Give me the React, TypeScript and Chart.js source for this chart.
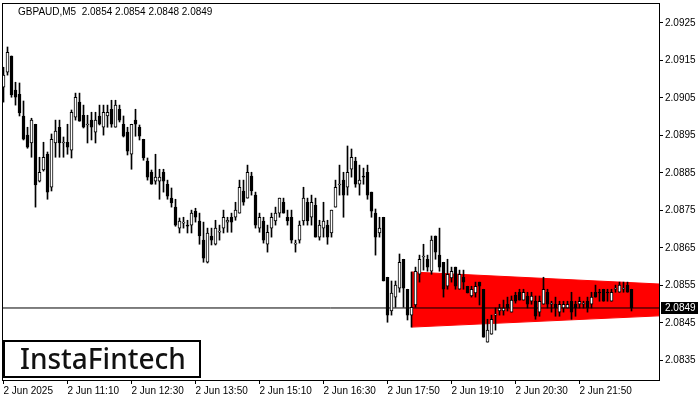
import React, { useEffect, useRef } from "react";
import { Chart, registerables } from "chart.js";

Chart.register(...registerables);

const headerText = "GBPAUD,M5  2.0854 2.0854 2.0848 2.0849";
const watermarkText = "InstaFintech";

const opens = [
  2.09079, 2.09119, 2.09162, 2.09071, 2.0906, 2.09002, 2.08951, 2.0893, 2.0898, 2.08828,
  2.08858, 2.089, 2.08812, 2.0893, 2.08972, 2.0893, 2.08932, 2.08911, 2.08999, 2.09039,
  2.09004, 2.08978, 2.08991, 2.08959, 2.09002, 2.08972, 2.09002, 2.0902, 2.08972, 2.0902,
  2.0898, 2.08959, 2.089, 2.08991, 2.08972, 2.0894, 2.08882, 2.08852, 2.08828, 2.08828,
  2.08852, 2.0882, 2.08783, 2.08759, 2.08703, 2.08716, 2.08711, 2.08711, 2.08748, 2.08722,
  2.08671, 2.08612, 2.08682, 2.0866, 2.08692, 2.08703, 2.08719, 2.08732, 2.08732, 2.08743,
  2.08802, 2.08783, 2.08842, 2.08791, 2.08703, 2.08722, 2.0866, 2.08703, 2.08722, 2.08743,
  2.08772, 2.08732, 2.08732, 2.0866, 2.08671, 2.08722, 2.08772, 2.08732, 2.08764, 2.08679,
  2.08703, 2.08711, 2.0869, 2.08759, 2.08818, 2.08831, 2.08812, 2.0886, 2.08882, 2.0882,
  2.08842, 2.08852, 2.08799, 2.08743, 2.0869, 2.08732, 2.08572, 2.08482, 2.08519, 2.08543,
  2.0862, 2.0854, 2.08471, 2.08498, 2.0858, 2.08626, 2.0862, 2.08588, 2.08682, 2.08631,
  2.08612, 2.08548, 2.0857, 2.08599, 2.0854, 2.08572, 2.08548, 2.08522, 2.0853, 2.08559,
  2.0854, 2.08399, 2.0842, 2.08471, 2.08482, 2.08482, 2.085, 2.08479, 2.08524, 2.08532,
  2.08511, 2.08522, 2.08508, 2.08508, 2.08479, 2.085, 2.08532, 2.085, 2.085, 2.08479,
  2.0849, 2.0849, 2.08508, 2.085, 2.085, 2.085, 2.08508, 2.085, 2.08532, 2.08532,
  2.0854, 2.08532, 2.08508, 2.0854, 2.08532, 2.0854, 2.08551, 2.0854,
];

const highs = [
  2.09132, 2.09186, 2.09162, 2.09092, 2.0909, 2.09042, 2.08972, 2.08996, 2.0898, 2.08892,
  2.08932, 2.08906, 2.08954, 2.08991, 2.08991, 2.08946, 2.0898, 2.09018, 2.09063, 2.09063,
  2.09031, 2.09004, 2.09012, 2.09012, 2.09031, 2.09031, 2.09031, 2.09044, 2.09044, 2.09031,
  2.09002, 2.08972, 2.0898, 2.0902, 2.08978, 2.0894, 2.0889, 2.08858, 2.089, 2.0886,
  2.0886, 2.08831, 2.0881, 2.0878, 2.0873, 2.08732, 2.08724, 2.08751, 2.08756, 2.08743,
  2.08719, 2.08703, 2.08703, 2.08724, 2.08711, 2.08751, 2.08732, 2.08743, 2.08772, 2.08831,
  2.08831, 2.08871, 2.08852, 2.08799, 2.08743, 2.08732, 2.08711, 2.08743, 2.08759, 2.08783,
  2.08783, 2.08751, 2.08751, 2.08671, 2.08722, 2.08812, 2.08783, 2.08791, 2.08783, 2.08724,
  2.08772, 2.08724, 2.08751, 2.08831, 2.08871, 2.08852, 2.08922, 2.08914, 2.08892, 2.08871,
  2.08863, 2.08871, 2.08799, 2.08754, 2.08732, 2.08732, 2.08572, 2.08562, 2.08562, 2.08634,
  2.0862, 2.0854, 2.08586, 2.08599, 2.08631, 2.0866, 2.08631, 2.08682, 2.08682, 2.08703,
  2.08612, 2.0862, 2.08599, 2.08599, 2.08591, 2.08591, 2.08548, 2.08548, 2.08559, 2.08559,
  2.0854, 2.0846, 2.08471, 2.0849, 2.085, 2.08511, 2.08519, 2.08522, 2.08532, 2.0854,
  2.0854, 2.08532, 2.08532, 2.08522, 2.08522, 2.08572, 2.0854, 2.08508, 2.08519, 2.08508,
  2.08508, 2.08508, 2.08532, 2.08508, 2.08519, 2.08508, 2.08519, 2.08532, 2.08551, 2.0854,
  2.0854, 2.0854, 2.0854, 2.08551, 2.08559, 2.08559, 2.08559, 2.0854,
];

const lows = [
  2.09039, 2.09111, 2.09052, 2.09031, 2.09002, 2.08938, 2.08916, 2.08892, 2.08759, 2.08826,
  2.08855, 2.0878, 2.08802, 2.08892, 2.08892, 2.08892, 2.089, 2.0889, 2.08991, 2.08988,
  2.0897, 2.0893, 2.08938, 2.0893, 2.08978, 2.08951, 2.08972, 2.08972, 2.08972, 2.08986,
  2.08946, 2.08898, 2.0886, 2.08948, 2.08938, 2.08884, 2.08831, 2.0882, 2.0882, 2.0878,
  2.08799, 2.0878, 2.08759, 2.08708, 2.0869, 2.08703, 2.0869, 2.0869, 2.08719, 2.0866,
  2.08612, 2.0861, 2.08658, 2.08658, 2.08671, 2.0869, 2.08692, 2.08692, 2.08724, 2.08743,
  2.08764, 2.08783, 2.08791, 2.08703, 2.08692, 2.08663, 2.08639, 2.08679, 2.08711, 2.08732,
  2.08743, 2.08711, 2.08663, 2.08639, 2.08663, 2.08711, 2.08711, 2.08711, 2.08679, 2.08671,
  2.08679, 2.0866, 2.08679, 2.08759, 2.08791, 2.08732, 2.08791, 2.08839, 2.08812, 2.08791,
  2.0882, 2.0878, 2.08732, 2.08631, 2.08679, 2.08562, 2.08452, 2.08471, 2.08492, 2.08532,
  2.08492, 2.08458, 2.08439, 2.08492, 2.08559, 2.08591, 2.08588, 2.0858, 2.0862, 2.08588,
  2.08519, 2.0854, 2.08559, 2.0854, 2.0854, 2.0854, 2.0853, 2.08519, 2.08519, 2.08498,
  2.08412, 2.08399, 2.0842, 2.08431, 2.08471, 2.08471, 2.08482, 2.08479, 2.08503, 2.08511,
  2.08511, 2.0849, 2.085, 2.0846, 2.08468, 2.085, 2.0849, 2.08479, 2.08468, 2.08468,
  2.08479, 2.0849, 2.0846, 2.08468, 2.0849, 2.0849, 2.08479, 2.0849, 2.08519, 2.08508,
  2.08508, 2.08508, 2.08508, 2.08532, 2.08532, 2.08532, 2.08532, 2.08482,
];

const closes = [
  2.09111, 2.09172, 2.09058, 2.09052, 2.0901, 2.0894, 2.08919, 2.08991, 2.08818, 2.08852,
  2.08892, 2.08799, 2.0894, 2.08962, 2.0893, 2.08932, 2.08919, 2.09012, 2.09052, 2.08988,
  2.08972, 2.0898, 2.08972, 2.08991, 2.0898, 2.09012, 2.09012, 2.0898, 2.09031, 2.08991,
  2.08948, 2.08908, 2.0898, 2.0898, 2.08948, 2.0889, 2.08839, 2.0882, 2.08839, 2.08839,
  2.08828, 2.08788, 2.0877, 2.08711, 2.08722, 2.08719, 2.08708, 2.08743, 2.08732, 2.08682,
  2.08623, 2.0869, 2.08671, 2.08703, 2.08695, 2.08732, 2.08724, 2.08719, 2.08751, 2.08812,
  2.08772, 2.08852, 2.08802, 2.08711, 2.08732, 2.08671, 2.08692, 2.08732, 2.08743, 2.08783,
  2.08743, 2.08722, 2.08671, 2.08663, 2.08711, 2.08783, 2.08722, 2.08772, 2.08679, 2.08711,
  2.08722, 2.08679, 2.08751, 2.08812, 2.0882, 2.08791, 2.08852, 2.08892, 2.0882, 2.08831,
  2.08839, 2.08791, 2.08748, 2.08679, 2.08703, 2.08562, 2.08471, 2.0853, 2.08551, 2.08612,
  2.08543, 2.08471, 2.08492, 2.08588, 2.0862, 2.08628, 2.08599, 2.08671, 2.08639, 2.08599,
  2.0854, 2.0858, 2.08588, 2.08548, 2.0858, 2.08559, 2.0853, 2.0854, 2.08548, 2.08548,
  2.08412, 2.08431, 2.0846, 2.08474, 2.0849, 2.0849, 2.0849, 2.08511, 2.08508, 2.08511,
  2.08532, 2.085, 2.08522, 2.08468, 2.08508, 2.0854, 2.085, 2.08502, 2.0849, 2.085,
  2.085, 2.085, 2.08479, 2.0849, 2.08508, 2.08502, 2.0849, 2.08519, 2.08519, 2.0853,
  2.08508, 2.0853, 2.08532, 2.08542, 2.08551, 2.08542, 2.08532, 2.0849,
];

const xTickIndex = [0, 16, 32, 48, 64, 80, 96, 112, 128, 144];
const xTickLabels = [
  "2 Jun 2025", "2 Jun 11:10", "2 Jun 12:30", "2 Jun 13:50", "2 Jun 15:10",
  "2 Jun 16:30", "2 Jun 17:50", "2 Jun 19:10", "2 Jun 20:30", "2 Jun 21:50",
];
const yTicks = [2.0835, 2.0845, 2.0855, 2.0865, 2.0875, 2.0885, 2.0895, 2.0905, 2.0915, 2.0925];

const xMin = -0.375;
const xMax = 163.875;
const yMin = 2.08298;
const yMax = 2.093033;

const patternX = [102, 163.875];
const patternTop = [2.08586, 2.08554];
const patternBottom = [2.08439, 2.08469];
const bidPrice = 2.0849;

const FONT = "'Liberation Sans', Arial, sans-serif";

const overlayPlugin = {
  id: "overlay",
  beforeDraw(chart: any) {
    const { ctx, width, height } = chart;
    ctx.save();
    ctx.fillStyle = "#fff";
    ctx.fillRect(0, 0, width, height);
    ctx.restore();
  },
  afterDraw(chart: any) {
    const { ctx, chartArea: a, scales } = chart;
    ctx.save();
    // frame
    ctx.strokeStyle = "#000";
    ctx.lineWidth = 1;
    ctx.strokeRect(a.left + 0.5, a.top + 0.5, a.right - a.left, a.bottom - a.top);
    // header
    ctx.fillStyle = "#000";
    ctx.font = `10px ${FONT}`;
    ctx.textBaseline = "middle";
    ctx.textAlign = "left";
    ctx.fillText(headerText, a.left + 16, a.top + 9);
    // bid label
    const by = Math.round(scales.y.getPixelForValue(bidPrice));
    ctx.fillStyle = "#000";
    ctx.fillRect(a.right + 2, by - 6, 37, 12);
    ctx.fillStyle = "#fff";
    ctx.fillText(bidPrice.toFixed(4), a.right + 6, by + 0.5);
    // watermark
    ctx.fillStyle = "#fff";
    ctx.fillRect(3, 340, 198, 38);
    ctx.strokeStyle = "#000";
    ctx.lineWidth = 2;
    ctx.strokeRect(4, 341, 196, 36);
    ctx.fillStyle = "#111";
    ctx.font = `500 28px 'Noto Sans', ${FONT}`;
    ctx.textBaseline = "alphabetic";
    ctx.fillText(watermarkText, 20, 369);
    ctx.restore();
  },
};

export default function App() {
  const ref = useRef<HTMLCanvasElement | null>(null);

  useEffect(() => {
    if (!ref.current) return;
    const bodyColors = opens.map((o, i) => (closes[i] >= o ? "#ffffff" : "#000000"));
    const chart = new Chart(ref.current, {
      type: "bar",
      data: {
        datasets: [
          {
            type: "bar",
            label: "body",
            data: opens.map((o, i) => ({ x: i, y: [o, closes[i]] })) as any,
            backgroundColor: bodyColors,
            borderColor: "#000",
            borderWidth: 1,
            borderSkipped: false,
            barThickness: 3,
            minBarLength: 1,
            grouped: false,
            order: 0,
          } as any,
          {
            type: "bar",
            label: "wick",
            data: highs.map((h, i) => ({ x: i, y: [lows[i], h] })) as any,
            backgroundColor: "#000",
            borderWidth: 0,
            barThickness: 1,
            minBarLength: 1,
            grouped: false,
            order: 1,
          } as any,
          {
            type: "line",
            label: "bid",
            data: [
              { x: xMin, y: bidPrice },
              { x: xMax, y: bidPrice },
            ],
            borderColor: "#000",
            borderWidth: 1,
            pointRadius: 0,
            fill: false,
            order: 2,
          } as any,
          {
            type: "line",
            label: "patternTop",
            data: patternX.map((x, i) => ({ x, y: patternTop[i] })),
            borderColor: "#ff0000",
            backgroundColor: "#ff0000",
            borderWidth: 1,
            pointRadius: 0,
            fill: "+1",
            order: 3,
          } as any,
          {
            type: "line",
            label: "patternBottom",
            data: patternX.map((x, i) => ({ x, y: patternBottom[i] })),
            borderColor: "#ff0000",
            backgroundColor: "#ff0000",
            borderWidth: 1,
            pointRadius: 0,
            fill: false,
            order: 4,
          } as any,
        ],
      },
      options: {
        responsive: false,
        animation: false,
        devicePixelRatio: 1,
        layout: { padding: { left: 2, top: 3, right: 0, bottom: 0 } },
        plugins: {
          legend: { display: false },
          tooltip: { enabled: false },
          title: { display: false },
        },
        scales: {
          x: {
            type: "linear",
            min: xMin,
            max: xMax,
            offset: false,
            border: { display: false },
            grid: {
              offset: false,
              drawOnChartArea: false,
              drawTicks: true,
              tickLength: 4,
              color: "#000",
            },
            ticks: {
              autoSkip: false,
              maxRotation: 0,
              minRotation: 0,
              align: "start",
              padding: 1,
              color: "#000",
              font: { family: FONT, size: 10 },
              callback: (v: any) => {
                const k = xTickIndex.indexOf(Number(v));
                return k >= 0 ? xTickLabels[k] : "";
              },
            },
            afterBuildTicks: (scale: any) => {
              scale.ticks = xTickIndex.map((v) => ({ value: v }));
            },
            afterFit: (scale: any) => {
              scale.height = 20;
              scale.paddingLeft = 0;
              scale.paddingRight = 0;
              scale.paddingTop = 0;
              scale.paddingBottom = 0;
            },
          } as any,
          y: {
            type: "linear",
            position: "right",
            min: yMin,
            max: yMax,
            border: { display: false },
            grid: {
              drawOnChartArea: false,
              drawTicks: true,
              tickLength: 4,
              color: "#000",
            },
            ticks: {
              padding: 2,
              color: "#000",
              font: { family: FONT, size: 10 },
              callback: (v: any) => Number(v).toFixed(4),
            },
            afterBuildTicks: (scale: any) => {
              scale.ticks = yTicks.map((v) => ({ value: v }));
            },
            afterFit: (scale: any) => {
              scale.width = 41;
              scale.paddingLeft = 0;
              scale.paddingRight = 0;
              scale.paddingTop = 0;
              scale.paddingBottom = 0;
            },
          } as any,
        },
      } as any,
      plugins: [overlayPlugin],
    });
    return () => chart.destroy();
  }, []);

  return (
    <div style={{ position: "fixed", left: 0, top: 0, width: 700, height: 400, background: "#fff" }}>
      <canvas ref={ref} width={700} height={400} style={{ width: 700, height: 400, display: "block" }} />
    </div>
  );
}
